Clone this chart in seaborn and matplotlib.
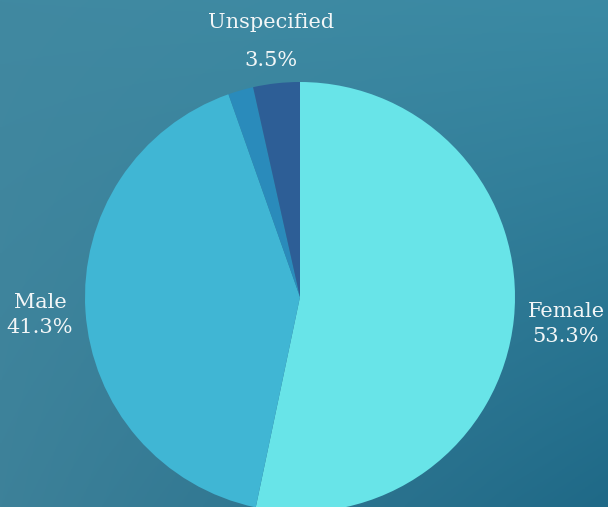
import numpy as np
import matplotlib
matplotlib.use("Agg")
import matplotlib.pyplot as plt
import seaborn as sns
from matplotlib.colors import to_rgb

categories = ["Female", "Male", "Other", "Unspecified"]
values = [53.3, 41.3, 1.9, 3.5]
labels = ["Female\n53.3%", "Male\n41.3%", "", "Unspecified\n\n3.5%"]
colors = ["#68e4e8", "#40b6d4", "#2a8bbb", "#2d5e96"]

sns.set_theme(style="white")
plt.rcParams["font.family"] = ["DejaVu Serif"]

W, H = 608, 507
fig = plt.figure(figsize=(W / 100, H / 100), dpi=100)

# background gradient
bg = fig.add_axes([0, 0, 1, 1])
bg.set_axis_off()
corners = {"tl": "#4189a1", "tr": "#3a8aa4", "bl": "#3d8199", "br": "#1f6987"}
c = {k: np.array(to_rgb(v)) for k, v in corners.items()}
yy, xx = np.mgrid[0:1:200j, 0:1:240j]
img = ((1 - xx)[..., None] * (1 - yy)[..., None] * c["tl"] + xx[..., None] * (1 - yy)[..., None] * c["tr"]
       + (1 - xx)[..., None] * yy[..., None] * c["bl"] + xx[..., None] * yy[..., None] * c["br"])
bg.imshow(img, extent=[0, 1, 0, 1], aspect="auto", origin="upper")
bg.set_xlim(0, 1); bg.set_ylim(0, 1)

ax = fig.add_axes([0, 0, 1, 1])
ax.set_axis_off()
ax.patch.set_alpha(0)
R = 215.0
cx, cy = 300.0, 297.0

ax.pie(values, colors=colors, startangle=90, counterclock=False, radius=1.0,
       wedgeprops=dict(linewidth=0))
ax.set_aspect("auto")
ax.set_xlim(-cx / R, (W - cx) / R)
ax.set_ylim(-(H - cy) / R, cy / R)

def px(x, y):
    return (x - cx) / R, (cy - y) / R

txt = dict(color="#f2f6f7", fontsize=15, ha="center", va="center", linespacing=1.45)
ax.text(*px(566, 324), labels[0], **txt)
ax.text(*px(40, 315), labels[1], **txt)
ax.text(*px(271, 22), "Unspecified", **txt)
ax.text(*px(271, 60), "3.5%", **txt)

fig.savefig("out.png", dpi=100)
